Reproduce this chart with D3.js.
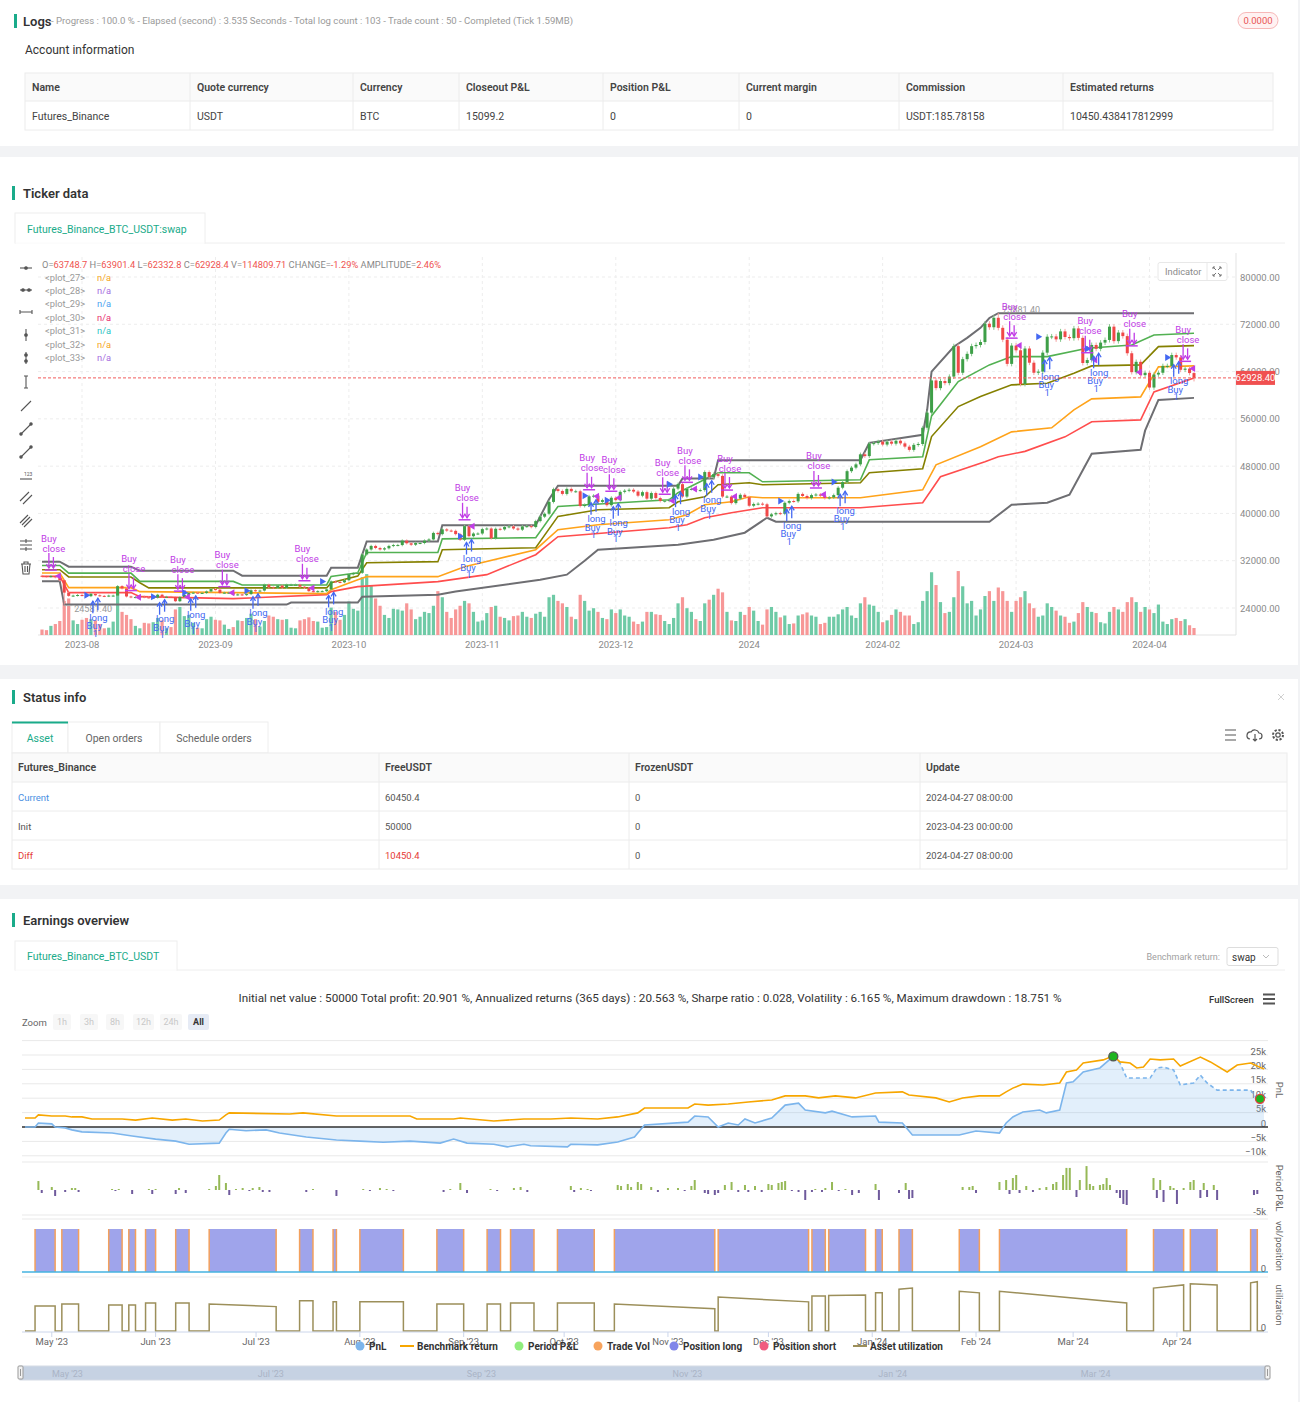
<!DOCTYPE html>
<html>
<head>
<meta charset="utf-8">
<script src="https://cdn.jsdelivr.net/npm/d3@7"></script>
<style>
  body { margin: 0; background: #f2f3f5; }
  svg { display: block; font-family: Roboto, "Helvetica Neue", Arial, sans-serif; }
</style>
</head>
<body>
<svg id="page" width="1300" height="1402"></svg>
<script>
// ---------- data ----------
const logsText = "- Progress : 100.0 % - Elapsed (second) : 3.535  Seconds - Total log count : 103 - Trade count : 50 - Completed (Tick 1.59MB)";
const badgeValue = "0.0000";

const accountHeaders = ["Name", "Quote currency", "Currency", "Closeout P&L", "Position P&L", "Current margin", "Commission", "Estimated returns"];
const accountValues = ["Futures_Binance", "USDT", "BTC", "15099.2", "0", "0", "USDT:185.78158", "10450.438417812999"];

const statusTabs = ["Asset", "Open orders", "Schedule orders"];
const statusHeaders = ["Futures_Binance", "FreeUSDT", "FrozenUSDT", "Update"];
const statusRows = [
  ["Current", "60450.4", "0", "2024-04-27 08:00:00"],
  ["Init", "50000", "0", "2023-04-23 00:00:00"],
  ["Diff", "10450.4", "0", "2024-04-27 08:00:00"]
];

const ohlcLegend = [["O=", "63748.7"], ["H=", "63901.4"], ["L=", "62332.8"], ["C=", "62928.4"], ["V=", "114809.71"], [" CHANGE=", "-1.29%"], ["AMPLITUDE=", "2.46%"]];
const plotNames = ["<plot_27>", "<plot_28>", "<plot_29>", "<plot_30>", "<plot_31>", "<plot_32>", "<plot_33>"];

// daily candles, first bar 2023-08-12, last 2024-04-27
const candleStart = "2023-08-12";
const firstOpen = 29450;
const closes = [
  29400, 29300, 29400, 29200, 28700, 26600, 26050, 26100, 26200, 26100, 26000, 26400, 26150, 26050, 26000, 26100, 26100, 27700, 27300, 25950,
  25800, 25850, 25950, 25800, 25750, 25750, 26250, 25900, 25900, 25850, 25150, 25850, 26200, 26550, 26600, 26550, 26550, 26800, 27200, 27100,
  26550, 26600, 26600, 26250, 26300, 26200, 26350, 27000, 26900, 26950,
  27950, 27500, 27400, 27800, 27400, 27950, 27950, 27950, 27600, 27400, 26850, 26750, 26850, 26850, 27150, 28500, 28400, 28350, 28700, 29700,
  29900, 29950, 33050, 33900, 34500, 34150, 33900, 34100, 34500, 34650, 34650,
  35400, 34950, 34700, 35000, 35000, 35400, 35600, 36700, 36500, 37300, 37100, 37050, 36500, 35550, 37850, 36150, 36600, 36600, 37350, 37450,
  35800, 37400, 37300, 37700, 37800, 37450, 37250, 37800, 37850, 37700,
  38700, 39450, 39950, 41950, 44100, 43800, 43300, 44150, 43750, 43750, 41250, 41450, 42900, 43000, 41950, 42250, 41400, 42650, 42250, 43650,
  43850, 44000, 43700, 43000, 43600, 42500, 43450, 42600, 42100, 42150, 42300,
  44200, 44950, 42850, 44150, 44150, 43950, 43950, 47000, 46150, 46650, 46350, 42850, 42850, 41750, 42500, 43150, 42750, 41300, 41600, 41650,
  41550, 39500, 39850, 40050, 39950, 41800, 42100, 42050, 43300, 42950, 42600,
  43100, 43200, 43000, 42600, 42700, 43100, 44350, 45300, 47150, 47750, 48300, 50000, 49700, 51800, 51900, 52150, 51650, 52150, 51800, 52300,
  51850, 51300, 50750, 51600, 51750, 54500, 57050, 62500, 61200,
  62400, 62050, 63150, 68300, 63800, 66100, 67000, 68300, 68500, 69000, 72100, 71500, 73100, 71400, 69400, 65300, 68400, 67600, 61900, 67900,
  65500, 63800, 64000, 67200, 69900, 69950, 69450, 70800, 69850, 69650, 71300,
  69700, 65450, 65950, 68500, 67850, 68900, 69350, 71600, 69150, 70600, 70000, 67100, 63900, 65650, 63400, 63800, 61300, 63500, 63800, 64950,
  64950, 66800, 66400, 64300, 64500, 63750, 62928.4
];
// volume, thousands
const volumes = [
  90, 80, 150, 180, 230, 560, 600, 240, 180, 250, 280, 260, 240, 180, 110, 120, 220, 700, 380, 330,
  260, 150, 110, 200, 190, 210, 280, 240, 110, 130, 420, 460, 310, 330, 200, 120, 110, 260, 300, 250, 240, 170, 100, 130, 240, 230, 280, 350, 260, 140,
  230, 320, 300, 260, 250, 260, 120, 110, 240, 260, 290, 230, 220, 120, 130, 450, 380, 250, 330, 550, 430, 400, 950, 1000, 820, 600, 480, 330, 280, 430, 420,
  400, 520, 420, 260, 300, 380, 360, 480, 720, 620, 380, 280, 420, 480, 560, 520, 380, 220, 240, 360, 460, 480, 300, 280, 240, 310, 320, 380, 300, 280,
  350, 380, 300, 620, 660, 560, 520, 460, 300, 260, 660, 560, 400, 440, 380, 280, 260, 420, 360, 420, 320, 300, 220, 180, 220, 380, 380, 340, 330, 230, 180,
  280, 520, 620, 440, 380, 260, 230, 520, 580, 660, 760, 700, 380, 240, 230, 380, 330, 460, 400, 230, 170, 420, 460, 380, 290, 320, 180, 190, 320, 340, 370,
  320, 300, 180, 200, 300, 300, 340, 420, 460, 320, 280, 520, 620, 500, 480, 380, 210, 240, 330, 420, 380, 320, 320, 180, 210, 560, 720, 1030, 820,
  540, 360, 380, 620, 1050, 800, 520, 560, 320, 420, 640, 720, 560, 780, 720, 560, 380, 560, 620, 720, 520, 440, 300, 320, 520, 460, 400, 320, 300, 200, 220,
  360, 540, 460, 380, 360, 210, 190, 380, 460, 420, 380, 540, 620, 540, 380, 460, 420, 360, 500, 220, 180, 260, 280, 230, 260, 160, 114.8
];
const lastBar = { date: "2024-04-27", o: 63748.7, h: 63901.4, l: 62332.8 };
const extremeLow = ["2023-08-17", 24581.4];
const extremeHigh = ["2024-03-14", 73881.4];

// channel lines, vertices [date, price]
const bandTop = [["2023-08-12",31840],["2023-08-16",31840],["2023-08-18",30990],["2023-09-01",30990],["2023-09-03",30310],["2023-09-24",30310],["2023-09-26",29470],["2023-10-15",29470],["2023-10-16",30820],["2023-10-22",30820],["2023-10-24",35250],["2023-11-09",35250],["2023-11-10",38000],["2023-12-01",38000],["2023-12-04",42400],["2023-12-06",44700],["2024-01-02",44700],["2024-01-03",45900],["2024-01-10",45900],["2024-01-11",49000],["2024-02-12",49000],["2024-02-14",51950],["2024-02-26",53300],["2024-02-27",57500],["2024-02-28",64000],["2024-03-04",68200],["2024-03-07",69700],["2024-03-10",71400],["2024-03-12",73070],["2024-03-14",73880],["2024-04-27",73880]];
const bandGreen = [["2023-08-12",31200],["2023-08-16",31200],["2023-08-18",29900],["2023-09-01",29900],["2023-09-03",28500],["2023-09-24",28500],["2023-09-26",27900],["2023-10-15",27900],["2023-10-16",29350],["2023-10-22",29970],["2023-10-24",33400],["2023-11-09",33400],["2023-11-10",35700],["2023-12-01",35900],["2023-12-06",41180],["2023-12-31",42300],["2024-01-02",43500],["2024-01-11",46880],["2024-01-18",46880],["2024-01-21",45350],["2024-02-12",45690],["2024-02-14",49070],["2024-02-26",49580],["2024-02-28",56500],["2024-03-05",62300],["2024-03-12",65130],["2024-03-17",66530],["2024-03-25",66530],["2024-04-03",67950],["2024-04-13",68500],["2024-04-18",70200],["2024-04-27",70480]];
const bandOlive = [["2023-08-12",30480],["2023-08-16",30480],["2023-08-18",29250],["2023-09-01",29250],["2023-09-03",28280],["2023-09-05",27400],["2023-10-15",27400],["2023-10-16",28280],["2023-10-22",29400],["2023-10-24",31660],["2023-11-09",31840],["2023-11-10",33860],["2023-12-01",34200],["2023-12-06",39500],["2023-12-15",40620],["2023-12-31",40960],["2024-01-02",41980],["2024-01-08",42820],["2024-01-11",44850],["2024-01-18",45190],["2024-01-21",44850],["2024-02-12",45190],["2024-02-14",46880],["2024-02-26",47550],["2024-02-28",53000],["2024-03-05",58080],["2024-03-10",59770],["2024-03-17",61750],["2024-03-25",62030],["2024-03-31",63720],["2024-04-04",64960],["2024-04-15",65130],["2024-04-19",68220],["2024-04-27",68390]];
const bandOrange = [["2023-08-12",29920],["2023-08-16",29920],["2023-08-18",27440],["2023-09-01",27440],["2023-09-03",26770],["2023-09-24",26600],["2023-10-15",26430],["2023-10-16",27100],["2023-10-22",28790],["2023-10-24",29300],["2023-11-09",29300],["2023-11-15",30990],["2023-12-01",33860],["2023-12-06",37240],["2023-12-15",38090],["2023-12-31",38930],["2024-01-04",39780],["2024-01-08",41470],["2024-01-14",41980],["2024-01-18",42820],["2024-01-21",42650],["2024-02-12",42650],["2024-02-26",44000],["2024-02-29",48230],["2024-03-10",51270],["2024-03-17",53800],["2024-03-26",54480],["2024-03-31",57520],["2024-04-04",59380],["2024-04-15",59720],["2024-04-19",64790],["2024-04-27",64960]];
const bandRed = [["2023-08-12",29350],["2023-08-16",29350],["2023-08-18",26600],["2023-09-01",26600],["2023-09-03",25920],["2023-09-24",25580],["2023-10-15",26260],["2023-10-16",26770],["2023-10-22",27610],["2023-11-09",28460],["2023-11-20",29640],["2023-12-01",33020],["2023-12-06",36060],["2023-12-31",37580],["2024-01-04",38090],["2024-01-08",39270],["2024-01-14",40120],["2024-01-21",40960],["2024-02-12",40960],["2024-02-26",41800],["2024-03-01",46200],["2024-03-11",48740],["2024-03-14",49580],["2024-03-20",50500],["2024-03-29",52960],["2024-04-04",55500],["2024-04-15",55830],["2024-04-18",60560],["2024-04-27",62930]];
const bandBottom = [["2023-08-12",28510],["2023-08-16",28510],["2023-08-17",24580],["2023-10-06",24580],["2023-10-07",24910],["2023-10-22",24910],["2023-10-23",25920],["2023-11-09",26260],["2023-11-13",26800],["2023-12-02",28790],["2023-12-08",29640],["2023-12-12",32000],["2023-12-15",33860],["2024-01-02",34710],["2024-01-10",35550],["2024-01-17",36740],["2024-01-22",39270],["2024-01-24",38600],["2024-03-12",38600],["2024-03-17",41470],["2024-03-25",41800],["2024-03-30",43160],["2024-04-04",50100],["2024-04-15",50760],["2024-04-16",54000],["2024-04-19",59210],["2024-04-27",59550]];

const priceTicks = [24000, 32000, 40000, 48000, 56000, 64000, 72000, 80000];
const tickerTicks = [["2023-08","2023-08-21"],["2023-09","2023-09-20"],["2023-10","2023-10-20"],["2023-11","2023-11-19"],["2023-12","2023-12-19"],["2024","2024-01-18"],["2024-02","2024-02-17"],["2024-03","2024-03-18"],["2024-04","2024-04-17"]];

// trades: [entry, exit]
const positions = [["2023-04-26","2023-05-02"],["2023-05-04","2023-05-09"],["2023-05-18","2023-05-22"],["2023-05-24","2023-05-26"],["2023-05-29","2023-06-01"],["2023-06-07","2023-06-11"],["2023-06-17","2023-07-07"],["2023-07-14","2023-07-18"],["2023-07-24","2023-07-25"],["2023-08-01","2023-08-14"],["2023-08-24","2023-09-01"],["2023-09-08","2023-09-12"],["2023-09-15","2023-09-22"],["2023-09-29","2023-10-10"],["2023-10-16","2023-11-15"],["2023-11-16","2023-12-13"],["2023-12-14","2023-12-18"],["2023-12-19","2023-12-30"],["2024-01-02","2024-01-04"],["2024-01-09","2024-01-13"],["2024-01-27","2024-02-02"],["2024-02-08","2024-03-17"],["2024-03-25","2024-04-03"],["2024-04-05","2024-04-13"],["2024-04-23","2024-04-25"]];
// asset utilization at start / end of each trade
const utilLevels = [[0.47,0.47],[0.51,0.51],[0.49,0.49],[0.49,0.49],[0.53,0.53],[0.53,0.53],[0.51,0.46],[0.57,0.57],[0.55,0.55],[0.55,0.55],[0.51,0.51],[0.51,0.51],[0.53,0.53],[0.53,0.53],[0.51,0.42],[0.64,0.55],[0.66,0.66],[0.67,0.68],[0.72,0.72],[0.79,0.81],[0.75,0.72],[0.75,0.53],[0.81,0.87],[0.89,0.87],[0.91,0.93]];

const summaryText = "Initial net value : 50000 Total profit: 20.901 %, Annualized returns (365 days) : 20.563 %, Sharpe ratio : 0.028, Volatility : 6.165 %, Maximum drawdown : 18.751 %";
const zoomButtons = ["1h", "3h", "8h", "12h", "24h", "All"];

const pnlSeries = [["2023-04-23",0],["2023-04-26",0],["2023-04-27",1400],["2023-05-01",1100],["2023-05-02",0],["2023-05-05",-300],["2023-05-07",-1000],["2023-05-10",-1700],["2023-05-19",-2100],["2023-05-25",-3100],["2023-06-01",-4200],["2023-06-07",-4900],["2023-06-11",-6000],["2023-06-20",-5600],["2023-06-22",-2100],["2023-06-23",-800],["2023-06-28",-1300],["2023-07-04",-1000],["2023-07-08",-2100],["2023-07-16",-3500],["2023-07-25",-4500],["2023-08-01",-4900],["2023-08-08",-5300],["2023-08-16",-4900],["2023-08-25",-5600],["2023-08-29",-4200],["2023-09-02",-5600],["2023-09-10",-6000],["2023-09-14",-6900],["2023-09-19",-6000],["2023-09-21",-6500],["2023-10-02",-6900],["2023-10-03",-6000],["2023-10-11",-6200],["2023-10-17",-5200],["2023-10-22",-3500],["2023-10-25",700],["2023-11-07",1700],["2023-11-09",3800],["2023-11-13",3500],["2023-11-16",0],["2023-11-19",1400],["2023-11-22",700],["2023-11-24",2800],["2023-11-27",1400],["2023-12-02",3100],["2023-12-06",7600],["2023-12-10",8300],["2023-12-12",5900],["2023-12-18",4900],["2023-12-20",5500],["2023-12-26",3500],["2024-01-02",3800],["2024-01-03",1700],["2024-01-10",1400],["2024-01-11",0],["2024-01-13",-2800],["2024-01-27",-2800],["2024-02-01",-1400],["2024-02-08",-2100],["2024-02-10",1400],["2024-02-12",3500],["2024-02-15",5200],["2024-02-20",5900],["2024-02-22",4900],["2024-02-26",5900],["2024-02-28",15300],["2024-03-01",15700],["2024-03-04",19100],["2024-03-09",20500],["2024-03-13",24500],["2024-03-15",22200],["2024-03-17",17000],["2024-03-24",17000],["2024-03-26",20500],["2024-03-28",20800],["2024-03-31",19800],["2024-04-02",14600],["2024-04-06",15300],["2024-04-08",18000],["2024-04-10",15300],["2024-04-13",12800],["2024-04-23",12800],["2024-04-25",9800],["2024-04-27",9800]];
const pnlPeakDate = "2024-03-13";
const benchSeries = [["2023-04-23",3100],["2023-04-26",3100],["2023-04-27",4200],["2023-05-01",3800],["2023-05-05",3800],["2023-05-07",3500],["2023-05-10",3500],["2023-05-13",2800],["2023-05-22",2800],["2023-05-26",2400],["2023-05-31",3100],["2023-06-06",2400],["2023-06-10",2800],["2023-06-15",2100],["2023-06-20",2400],["2023-06-22",4200],["2023-06-23",4900],["2023-07-11",4500],["2023-07-15",4900],["2023-07-25",3800],["2023-08-04",3800],["2023-08-16",3800],["2023-08-18",2800],["2023-08-29",2800],["2023-08-31",3100],["2023-09-10",2100],["2023-09-19",2800],["2023-09-27",2800],["2023-10-03",3100],["2023-10-11",2800],["2023-10-17",3500],["2023-10-23",4900],["2023-10-25",6600],["2023-11-07",6600],["2023-11-09",8000],["2023-11-13",7600],["2023-11-19",8000],["2023-11-25",8700],["2023-12-02",9400],["2023-12-06",10800],["2023-12-12",10800],["2023-12-16",10100],["2023-12-21",10800],["2023-12-27",10100],["2024-01-02",11800],["2024-01-10",12200],["2024-01-12",11100],["2024-01-20",10100],["2024-01-24",8700],["2024-01-28",10100],["2024-02-02",10800],["2024-02-08",10800],["2024-02-10",12200],["2024-02-12",13500],["2024-02-15",14900],["2024-02-21",14600],["2024-02-26",15300],["2024-02-28",19100],["2024-03-02",19800],["2024-03-04",22200],["2024-03-10",23300],["2024-03-13",24700],["2024-03-15",22600],["2024-03-18",22200],["2024-03-20",20500],["2024-03-22",20800],["2024-03-24",23600],["2024-03-27",23300],["2024-03-31",23600],["2024-04-02",21200],["2024-04-08",24300],["2024-04-11",22600],["2024-04-16",19100],["2024-04-19",21500],["2024-04-23",22200],["2024-04-27",20100]];
const periodPnl = [["2023-04-27",1950],["2023-04-28",-650],["2023-05-01",650],["2023-05-02",-1300],["2023-05-05",-430],["2023-05-07",430],["2023-05-08",430],["2023-05-09",-430],["2023-05-19",220],["2023-05-20",-220],["2023-05-21",220],["2023-05-25",-870],["2023-05-30",220],["2023-05-31",-870],["2023-06-01",220],["2023-06-07",-870],["2023-06-08",430],["2023-06-10",-650],["2023-06-17",220],["2023-06-19",870],["2023-06-20",3260],["2023-06-22",1520],["2023-06-23",-1090],["2023-06-25",220],["2023-06-27",430],["2023-06-29",-220],["2023-06-30",430],["2023-07-02",650],["2023-07-03",-430],["2023-07-05",-430],["2023-07-16",-430],["2023-07-18",220],["2023-07-25",-1300],["2023-08-02",220],["2023-08-04",-220],["2023-08-07",430],["2023-08-09",220],["2023-08-11",-220],["2023-08-26",-430],["2023-08-28",220],["2023-08-31",1520],["2023-09-02",-650],["2023-09-09",220],["2023-09-11",-220],["2023-09-16",430],["2023-09-18",650],["2023-09-20",-430],["2023-10-03",870],["2023-10-04",-430],["2023-10-06",430],["2023-10-08",220],["2023-10-09",-220],["2023-10-17",1090],["2023-10-18",870],["2023-10-20",1300],["2023-10-21",650],["2023-10-23",1740],["2023-10-24",1300],["2023-10-27",650],["2023-10-29",-430],["2023-11-01",430],["2023-11-04",430],["2023-11-06",-220],["2023-11-08",870],["2023-11-09",2170],["2023-11-12",-650],["2023-11-13",-870],["2023-11-15",-1090],["2023-11-16",-650],["2023-11-18",1090],["2023-11-20",1740],["2023-11-22",-430],["2023-11-24",1090],["2023-11-25",-430],["2023-11-27",870],["2023-11-29",-430],["2023-12-01",1300],["2023-12-02",1090],["2023-12-04",1520],["2023-12-05",1740],["2023-12-06",1950],["2023-12-08",-220],["2023-12-10",-430],["2023-12-12",-2170],["2023-12-14",-430],["2023-12-15",220],["2023-12-17",-430],["2023-12-18",430],["2023-12-20",1740],["2023-12-22",-220],["2023-12-24",220],["2023-12-26",-1090],["2023-12-28",-650],["2024-01-02",1300],["2024-01-03",-2170],["2024-01-09",-650],["2024-01-11",1520],["2024-01-12",-1950],["2024-01-13",-1740],["2024-01-28",650],["2024-01-30",650],["2024-01-31",870],["2024-02-01",-650],["2024-02-08",1740],["2024-02-10",2170],["2024-02-11",-870],["2024-02-12",2600],["2024-02-13",3260],["2024-02-14",-650],["2024-02-16",870],["2024-02-18",-430],["2024-02-20",430],["2024-02-22",650],["2024-02-24",1300],["2024-02-25",1740],["2024-02-27",3260],["2024-02-28",4800],["2024-02-29",4800],["2024-03-02",-1520],["2024-03-03",2170],["2024-03-05",5200],["2024-03-06",1300],["2024-03-07",870],["2024-03-09",1090],["2024-03-10",1300],["2024-03-11",2600],["2024-03-12",1090],["2024-03-14",-650],["2024-03-15",-1740],["2024-03-16",-3040],["2024-03-17",-3260],["2024-03-25",2600],["2024-03-26",-1740],["2024-03-27",2170],["2024-03-28",-2600],["2024-03-30",870],["2024-03-31",430],["2024-04-01",-3040],["2024-04-03",430],["2024-04-05",1740],["2024-04-06",2170],["2024-04-08",-1740],["2024-04-09",1520],["2024-04-10",-1520],["2024-04-12",1090],["2024-04-13",-2170],["2024-04-24",-1090],["2024-04-25",-870]];
const pnlTicks = [-10000, -5000, 0, 5000, 10000, 15000, 20000, 25000];
const monthTicks = ["2023-05-01","2023-06-01","2023-07-01","2023-08-01","2023-09-01","2023-10-01","2023-11-01","2023-12-01","2024-01-01","2024-02-01","2024-03-01","2024-04-01"];
const navTicks = ["2023-05-01","2023-07-01","2023-09-01","2023-11-01","2024-01-01","2024-03-01"];
const legendNames = ["PnL", "Benchmark return", "Period P&L", "Trade Vol", "Position long", "Position short", "Asset utilization"];

// ---------- styles / layout ----------
const GREEN = "#1aab8a";
const plotColors = ["#f5a623", "#a66ee0", "#4aa3f0", "#e8306e", "#2ec4c4", "#f5a623", "#a66ee0"];
const bandStyles = [
  [bandBottom, "#6e6e72", 2], [bandRed, "#ff4d4d", 1.6], [bandOrange, "#ffa31a", 1.6],
  [bandOlive, "#858000", 1.6], [bandGreen, "#52b152", 1.6], [bandTop, "#6e6e72", 2]
];
const legendStyle = [["#7cb5ec", "dot", 360], ["#f7a600", "line", 404], ["#90ed7d", "dot", 519], ["#f7a35c", "dot", 598], ["#8085e9", "dot", 674], ["#f15c80", "dot", 764], ["#9c8f5a", "line", 857]];

const P = d3.utcParse("%Y-%m-%d");
const svg = d3.select("#page");

function txt(g, x, y, s, o = {}) {
  return g.append("text")
    .attr("x", x).attr("y", y)
    .attr("font-size", o.size || 11)
    .attr("fill", o.color || "#333")
    .attr("font-weight", o.weight || 400)
    .attr("text-anchor", o.anchor || "start")
    .attr("dominant-baseline", "central")
    .text(s);
}
function hline(g, x1, x2, y, color, w = 1, dash = null) {
  return g.append("line").attr("x1", x1).attr("x2", x2).attr("y1", y).attr("y2", y)
    .attr("stroke", color).attr("stroke-width", w).attr("stroke-dasharray", dash);
}
function vline(g, x, y1, y2, color, w = 1, dash = null) {
  return g.append("line").attr("x1", x).attr("x2", x).attr("y1", y1).attr("y2", y2)
    .attr("stroke", color).attr("stroke-width", w).attr("stroke-dasharray", dash);
}
function sectionTitle(y, s) {
  svg.append("rect").attr("x", 12).attr("y", y - 7).attr("width", 3).attr("height", 14).attr("fill", GREEN);
  txt(svg, 23, y, s, { size: 13, weight: 600, color: "#333" });
}

// panels
[[0, 0, 146], [0, 157, 508], [0, 679, 206], [0, 899, 503]].forEach(([x, y, h]) => {
  svg.append("rect").attr("x", x).attr("y", y).attr("width", 1298).attr("height", h).attr("fill", "#fff");
});

// ---------- Logs / account ----------
svg.append("rect").attr("x", 14).attr("y", 14).attr("width", 3).attr("height", 14).attr("fill", GREEN);
txt(svg, 23, 21, "Logs", { size: 13, weight: 600 });
txt(svg, 51, 21, logsText, { size: 9, color: "#9a9a9a" }).attr("textLength", 522).attr("lengthAdjust", "spacingAndGlyphs");
svg.append("rect").attr("x", 1238).attr("y", 12.5).attr("width", 40).attr("height", 16).attr("rx", 8)
  .attr("fill", "#fff2f2").attr("stroke", "#f7b8b8");
txt(svg, 1258, 20.5, badgeValue, { size: 9.5, color: "#e85555", anchor: "middle" });
txt(svg, 25, 50, "Account information", { size: 12, color: "#333" });

const accCols = [25, 190, 353, 459, 603, 739, 899, 1063, 1273];
svg.append("rect").attr("x", 25).attr("y", 73).attr("width", 1248).attr("height", 28).attr("fill", "#fafafa");
svg.append("rect").attr("x", 25).attr("y", 73).attr("width", 1248).attr("height", 57).attr("fill", "none").attr("stroke", "#ececec");
hline(svg, 25, 1273, 101, "#ececec");
accCols.slice(1, -1).forEach(x => vline(svg, x, 73, 130, "#ececec"));
accountHeaders.forEach((h, i) => txt(svg, accCols[i] + 7, 87, h, { size: 10.5, weight: 600, color: "#444" }));
accountValues.forEach((v, i) => txt(svg, accCols[i] + 7, 116, v, { size: 10.5, color: "#444" }));

// ---------- Ticker data ----------
sectionTitle(193, "Ticker data");
hline(svg, 15, 1285, 243, "#eeeeee");
svg.append("rect").attr("x", 15).attr("y", 213).attr("width", 190).attr("height", 30).attr("fill", "#fff").attr("stroke", "#eeeeee");
hline(svg, 15.5, 204.5, 243, "#fff", 1.5);
txt(svg, 27, 229, "Futures_Binance_BTC_USDT:swap", { size: 10.5, color: GREEN });

const gT = svg.append("g");
const xT = d3.scaleUtc().domain([P(candleStart), P(lastBar.date)]).range([42, 1194]);
const yT = d3.scaleLinear().domain([24000, 80000]).range([608, 277]);
const yV = d3.scaleLinear().domain([0, 1100]).range([635, 568]);
const plotL = 38, plotR = 1236, plotT = 257, plotB = 635;

const candles = closes.map((c, i) => {
  const date = d3.utcDay.offset(P(candleStart), i);
  const o = i === 0 ? firstOpen : closes[i - 1];
  const pad = Math.max(o, c) * 0.006;
  return { date, o, c, h: Math.max(o, c) + pad, l: Math.min(o, c) - pad, v: volumes[i] };
});
const byDate = new Map(candles.map(d => [+d.date, d]));
const lb = byDate.get(+P(lastBar.date));
Object.assign(lb, { o: lastBar.o, h: lastBar.h, l: lastBar.l });
byDate.get(+P(extremeLow[0])).l = extremeLow[1];
byDate.get(+P(extremeHigh[0])).h = extremeHigh[1];

// grid
priceTicks.forEach(p => hline(gT, plotL, plotR, yT(p), "#ededed", 1, "3,3"));
tickerTicks.forEach(([, d]) => vline(gT, xT(P(d)), plotT, plotB, "#ededed", 1, "3,3"));
vline(gT, plotR, plotT - 4, plotB, "#e3e3e3");
hline(gT, plotL, plotR, plotB, "#e3e3e3");
priceTicks.forEach(p => txt(gT, 1240, yT(p), d3.format(".2f")(p), { size: 9.5, color: "#8a8a8a" }));
tickerTicks.forEach(([s, d]) => txt(gT, xT(P(d)), 644, s, { size: 9.5, color: "#8a8a8a", anchor: "middle" }));

// volume
gT.append("g").selectAll("rect").data(candles).join("rect")
  .attr("x", d => xT(d.date) - 1.6).attr("width", 3.2)
  .attr("y", d => yV(d.v)).attr("height", d => yV(0) - yV(d.v))
  .attr("fill", d => d.c >= d.o ? "#6fcaa6" : "#f79797");

// channel lines
const bandLine = d3.line().x(d => xT(P(d[0]))).y(d => yT(d[1]));
bandStyles.forEach(([pts, color, w]) => {
  gT.append("path").attr("d", bandLine(pts)).attr("fill", "none").attr("stroke", color).attr("stroke-width", w);
});

// candles
const cg = gT.append("g");
cg.selectAll("line").data(candles).join("line")
  .attr("x1", d => xT(d.date)).attr("x2", d => xT(d.date))
  .attr("y1", d => yT(d.h)).attr("y2", d => yT(d.l))
  .attr("stroke", d => d.c >= d.o ? "#84c98a" : "#f5a0a0").attr("stroke-width", 1);
cg.selectAll("rect").data(candles).join("rect")
  .attr("x", d => xT(d.date) - 1.5).attr("width", 3)
  .attr("y", d => yT(Math.max(d.o, d.c)))
  .attr("height", d => Math.max(1, Math.abs(yT(d.o) - yT(d.c))))
  .attr("fill", d => d.c >= d.o ? "#3e9f48" : "#f04848");

// extremes
const hiC = byDate.get(+P(extremeHigh[0])), loC = byDate.get(+P(extremeLow[0]));
txt(gT, xT(hiC.date) + 4, yT(hiC.h) - 3, d3.format(".2f")(extremeHigh[1]), { size: 9, color: "#999" });
hline(gT, xT(loC.date), xT(loC.date) + 8, yT(loC.l) + 1, "#aaa");
txt(gT, xT(loC.date) + 10, yT(loC.l) + 4, d3.format(".2f")(extremeLow[1]), { size: 9, color: "#999" });

// trade markers
const BLUE = "#4468f2", PURPLE = "#c13de6";
function drawEntry(c) {
  const x = xT(c.date), yb = yT(c.l), yc = yT(c.c);
  gT.append("path").attr("d", `M${x - 11},${yc - 3.5}L${x - 5},${yc}L${x - 11},${yc + 3.5}Z`).attr("fill", BLUE);
  [[-2.5, 5], [2.5, 2]].forEach(([dx, top]) => {
    const ax = x + dx, y0 = yb + top;
    gT.append("line").attr("x1", ax).attr("x2", ax).attr("y1", y0).attr("y2", y0 + 12).attr("stroke", BLUE).attr("stroke-width", 1.3);
    gT.append("path").attr("d", `M${ax - 2.5},${y0 + 4}L${ax},${y0}L${ax + 2.5},${y0 + 4}`).attr("fill", "none").attr("stroke", BLUE).attr("stroke-width", 1.3);
  });
  txt(gT, x + 3, yb + 21, "long", { size: 9.5, color: BLUE, anchor: "middle" });
  txt(gT, x - 1, yb + 29.5, "Buy", { size: 9.5, color: BLUE, anchor: "middle" });
  txt(gT, x, yb + 37, "1", { size: 9.5, color: BLUE, anchor: "middle" });
}
function drawExit(c) {
  const x = xT(c.date), yt = yT(c.h), yc = yT(c.c);
  gT.append("path").attr("d", `M${x + 10},${yc - 3.5}L${x + 4},${yc}L${x + 10},${yc + 3.5}Z`).attr("fill", PURPLE);
  [[-2, 22], [2.5, 18]].forEach(([dx, top]) => {
    const ax = x + dx, y1 = yt - 7;
    gT.append("line").attr("x1", ax).attr("x2", ax).attr("y1", yt - top).attr("y2", y1).attr("stroke", PURPLE).attr("stroke-width", 1.3);
    gT.append("path").attr("d", `M${ax - 2.5},${y1 - 4}L${ax},${y1}L${ax + 2.5},${y1 - 4}`).attr("fill", "none").attr("stroke", PURPLE).attr("stroke-width", 1.3);
  });
  hline(gT, x - 6, x + 6, yt - 5, PURPLE, 1.5);
  txt(gT, x + 3, yt - 27, "close", { size: 9.5, color: PURPLE, anchor: "middle" });
  txt(gT, x - 2, yt - 37, "Buy", { size: 9.5, color: PURPLE, anchor: "middle" });
}
positions.forEach(([s, e]) => {
  const cs = byDate.get(+P(s)), ce = byDate.get(+P(e));
  if (cs) drawEntry(cs);
  if (ce) drawExit(ce);
});

// last price
const yLast = yT(closes[closes.length - 1]);
hline(gT, plotL, plotR, yLast, "#f25b5b", 1, "3,2");
gT.append("rect").attr("x", 1236).attr("y", yLast - 7).attr("width", 39).attr("height", 14).attr("fill", "#f05050");
txt(gT, 1255.5, yLast, d3.format(".2f")(closes[closes.length - 1]), { size: 9.5, color: "#fff", anchor: "middle" });

// legend
const leg = gT.append("text").attr("x", 42).attr("y", 264).attr("font-size", 9.3).attr("dominant-baseline", "central");
ohlcLegend.forEach(([k, v], i) => {
  leg.append("tspan").attr("fill", "#888").text((i ? " " : "") + k);
  leg.append("tspan").attr("fill", "#ef5350").text(v);
});
plotNames.forEach((n, i) => {
  const y = 277 + i * 13.4;
  txt(gT, 45, y, n, { size: 9.3, color: "#999" });
  txt(gT, 97, y, "n/a", { size: 9.3, color: plotColors[i] });
});

// Indicator button
gT.append("rect").attr("x", 1158).attr("y", 262.5).attr("width", 69).attr("height", 18).attr("rx", 2).attr("fill", "#fff").attr("stroke", "#e8e8e8");
txt(gT, 1165, 271.5, "Indicator", { size: 9.3, color: "#8a8a8a" });
vline(gT, 1207, 262.5, 280.5, "#e8e8e8");
[[1213, 267, 1, 1], [1221, 267, -1, 1], [1213, 276, 1, -1], [1221, 276, -1, -1]].forEach(([x, y, sx, sy]) => {
  gT.append("path").attr("d", `M${x},${y}l${3 * sx},${3 * sy}M${x},${y}l${2 * sx},0M${x},${y}l0,${2 * sy}`).attr("stroke", "#777").attr("fill", "none");
});

// drawing toolbar
const tb = svg.append("g").attr("stroke", "#555").attr("fill", "none").attr("stroke-width", 1.1);
const toolY = [268, 290, 312, 335, 358, 382, 406, 429, 452, 476, 498, 521, 545, 568];
toolY.forEach((y, i) => {
  const x = 26;
  if (i === 0) { tb.append("path").attr("d", `M${x - 6},${y}H${x + 6}`); tb.append("circle").attr("cx", x).attr("cy", y).attr("r", 1.3).attr("fill", "#555"); }
  if (i === 1) { tb.append("path").attr("d", `M${x - 6},${y}H${x + 6}`); [x - 3, x + 3].forEach(cx => tb.append("circle").attr("cx", cx).attr("cy", y).attr("r", 1.3).attr("fill", "#555")); }
  if (i === 2) tb.append("path").attr("d", `M${x - 6},${y}H${x + 6}M${x - 6},${y - 2}V${y + 2}M${x + 6},${y - 2}V${y + 2}`);
  if (i === 3) { tb.append("path").attr("d", `M${x},${y - 6}V${y + 6}`); tb.append("circle").attr("cx", x).attr("cy", y).attr("r", 1.3).attr("fill", "#555"); }
  if (i === 4) { tb.append("path").attr("d", `M${x},${y - 6}V${y + 6}`); [y - 3, y + 3].forEach(cy => tb.append("circle").attr("cx", x).attr("cy", cy).attr("r", 1.3).attr("fill", "#555")); }
  if (i === 5) tb.append("path").attr("d", `M${x},${y - 6}V${y + 6}M${x - 2},${y - 6}H${x + 2}M${x - 2},${y + 6}H${x + 2}`);
  if (i >= 6 && i <= 8) {
    tb.append("path").attr("d", `M${x - 5},${y + 5}L${x + 5},${y - 5}`);
    if (i > 6) [[x - 5, y + 5], [x + 5, y - 5]].forEach(([cx, cy]) => tb.append("circle").attr("cx", cx).attr("cy", cy).attr("r", 1.2).attr("fill", "#555"));
  }
  if (i === 9) { tb.append("path").attr("d", `M${x - 6},${y + 3}H${x + 6}`); svg.append("text").attr("x", x - 2).attr("y", y).attr("font-size", 5).attr("fill", "#555").text("123"); }
  if (i === 10) tb.append("path").attr("d", `M${x - 6},${y + 3}L${x + 3},${y - 6}M${x - 3},${y + 6}L${x + 6},${y - 3}`);
  if (i === 11) tb.append("path").attr("d", `M${x - 6},${y + 2}L${x + 2},${y - 6}M${x - 4},${y + 4}L${x + 4},${y - 4}M${x - 2},${y + 6}L${x + 6},${y - 2}`);
  if (i === 12) tb.append("path").attr("d", `M${x - 6},${y - 4}H${x + 6}M${x - 6},${y}H${x + 6}M${x - 6},${y + 4}H${x + 6}M${x},${y - 6}V${y - 2}M${x},${y + 2}V${y + 6}`);
  if (i === 13) tb.append("path").attr("d", `M${x - 5},${y - 4}H${x + 5}M${x - 2},${y - 4}V${y - 6}H${x + 2}V${y - 4}M${x - 4},${y - 4}L${x - 3},${y + 6}H${x + 3}L${x + 4},${y - 4}M${x - 1},${y - 2}V${y + 4}M${x + 1.5},${y - 2}V${y + 4}`);
});

// ---------- Status info ----------
sectionTitle(697, "Status info");
svg.append("path").attr("d", "M1278,694l6,6M1284,694l-6,6").attr("stroke", "#d0d0d0").attr("fill", "none");
const tabX = [12, 68, 160, 268];
statusTabs.forEach((t, i) => {
  svg.append("rect").attr("x", tabX[i]).attr("y", 722).attr("width", tabX[i + 1] - tabX[i]).attr("height", 31).attr("fill", "#fff").attr("stroke", "#eeeeee");
  txt(svg, (tabX[i] + tabX[i + 1]) / 2, 738, t, { size: 10.5, color: i === 0 ? GREEN : "#666", anchor: "middle" });
});
hline(svg, 12, 68, 722.5, GREEN, 2);
// toolbar icons
const ic = svg.append("g").attr("stroke", "#555").attr("fill", "none").attr("stroke-width", 1.2);
ic.append("path").attr("d", "M1225,730H1236M1225,735H1236M1225,740H1236");
ic.append("path").attr("d", "M1250,739a3.5,3.5 0 0 1 1,-7a4.5,4.5 0 0 1 8,1a3,3 0 0 1 0,6M1255,734V741M1253,739l2,2l2,-2");
ic.append("circle").attr("cx", 1278).attr("cy", 735).attr("r", 2.2);
ic.append("circle").attr("cx", 1278).attr("cy", 735).attr("r", 5).attr("stroke-dasharray", "2.2,1.7").attr("stroke-width", 2);

const stCols = [12, 379, 629, 920, 1287];
svg.append("rect").attr("x", 12).attr("y", 753).attr("width", 1275).attr("height", 29).attr("fill", "#fafafa");
svg.append("rect").attr("x", 12).attr("y", 753).attr("width", 1275).attr("height", 116).attr("fill", "none").attr("stroke", "#ececec");
[782, 811, 840].forEach(y => hline(svg, 12, 1287, y, "#ececec"));
stCols.slice(1, -1).forEach(x => vline(svg, x, 753, 869, "#ececec"));
statusHeaders.forEach((h, i) => txt(svg, stCols[i] + 6, 767.5, h, { size: 10.5, weight: 600, color: "#444" }));
statusRows.forEach((r, ri) => {
  r.forEach((v, ci) => {
    let color = "#555";
    if (ri === 0 && ci === 0) color = "#4a90e2";
    if (ri === 2 && ci < 2) color = "#e53935";
    txt(svg, stCols[ci] + 6, 797 + ri * 29, v, { size: 9.5, color });
  });
});

// ---------- Earnings overview ----------
sectionTitle(920, "Earnings overview");
hline(svg, 15, 1285, 970, "#eeeeee");
svg.append("rect").attr("x", 15).attr("y", 941).attr("width", 162).attr("height", 29).attr("fill", "#fff").attr("stroke", "#eeeeee");
hline(svg, 15.5, 176.5, 970, "#fff", 1.5);
txt(svg, 27, 956, "Futures_Binance_BTC_USDT", { size: 10.5, color: GREEN });
txt(svg, 1220, 957, "Benchmark return:", { size: 9, color: "#a0a0a0", anchor: "end" });
svg.append("rect").attr("x", 1227).attr("y", 947.5).attr("width", 51).attr("height", 18).attr("rx", 2).attr("fill", "#fff").attr("stroke", "#dddddd");
txt(svg, 1232, 957, "swap", { size: 10, color: "#333" });
svg.append("path").attr("d", "M1263,955l3,3l3,-3").attr("stroke", "#bbb").attr("fill", "none");

txt(svg, 650, 998, summaryText, { size: 10.5, color: "#333", anchor: "middle" }).attr("textLength", 823).attr("lengthAdjust", "spacingAndGlyphs");
txt(svg, 1209, 999, "FullScreen", { size: 9.5, color: "#333", weight: 500 });
svg.append("path").attr("d", "M1263,994.5H1275M1263,999H1275M1263,1003.5H1275").attr("stroke", "#555").attr("stroke-width", 1.8);

txt(svg, 22, 1022, "Zoom", { size: 9.5, color: "#666" });
const zbX = [53, 80, 106, 133, 160, 188], zbW = [18, 18, 18, 21, 22, 21];
zoomButtons.forEach((b, i) => {
  const last = i === zoomButtons.length - 1;
  svg.append("rect").attr("x", zbX[i]).attr("y", 1014).attr("width", zbW[i]).attr("height", 16).attr("rx", 2).attr("fill", last ? "#e6ebf5" : "#f7f7f7");
  txt(svg, zbX[i] + zbW[i] / 2, 1022, b, { size: 9, color: last ? "#333" : "#c8c8c8", anchor: "middle", weight: last ? 700 : 400 });
});

const gE = svg.append("g");
const xE = d3.scaleUtc().domain([P("2023-04-23"), P("2024-04-27")]).range([25, 1264]);
const eL = 22, eR = 1268;
const yP = d3.scaleLinear().domain([-10000, 30000]).range([1155.8, 1040.6]);
const yPer = d3.scaleLinear().domain([-5000, 0]).range([1213, 1190]);
const yU = d3.scaleLinear().domain([0, 1]).range([1331, 1278]);

// PnL pane
d3.range(-10000, 30001, 5000).forEach(v => hline(gE, eL, eR, yP(v), "#e9e9e9"));
pnlTicks.forEach(v => txt(gE, 1266, yP(v) - 4, v === 0 ? "0" : d3.format("~s")(v), { size: 9.5, color: "#666", anchor: "end" }));
const pnlPts = pnlSeries.map(d => ({ date: P(d[0]), v: d[1] }));
gE.append("path").datum(pnlPts)
  .attr("d", d3.area().x(d => xE(d.date)).y0(yP(0)).y1(d => yP(d.v)))
  .attr("fill", "rgba(124,181,236,0.22)");
hline(gE, eL, eR, yP(0), "#333", 1.5);
const peakIdx = pnlSeries.findIndex(d => d[0] === pnlPeakDate);
const pLine = d3.line().x(d => xE(d.date)).y(d => yP(d.v));
gE.append("path").attr("d", pLine(pnlPts.slice(0, peakIdx + 1))).attr("fill", "none").attr("stroke", "#7cb5ec").attr("stroke-width", 1.6);
gE.append("path").attr("d", pLine(pnlPts.slice(peakIdx))).attr("fill", "none").attr("stroke", "#7cb5ec").attr("stroke-width", 1.6).attr("stroke-dasharray", "4,3");
const benchPts = benchSeries.map(d => ({ date: P(d[0]), v: d[1] }));
gE.append("path").attr("d", pLine(benchPts)).attr("fill", "none").attr("stroke", "#f7a600").attr("stroke-width", 1.6);
[pnlPts[peakIdx], pnlPts[pnlPts.length - 1]].forEach((d, i) => {
  gE.append("circle").attr("cx", xE(d.date) - (i ? 4 : 0)).attr("cy", yP(d.v)).attr("r", 4.5)
    .attr("fill", "#1fb51f").attr("stroke", i ? "#e04040" : "#555").attr("stroke-width", 1.3);
});

// Period P&L pane
hline(gE, eL, eR, 1162, "#e9e9e9");
hline(gE, eL, eR, 1215, "#e9e9e9");
gE.append("g").selectAll("rect").data(periodPnl).join("rect")
  .attr("x", d => xE(P(d[0])) - 1).attr("width", 2)
  .attr("y", d => Math.min(yPer(0), yPer(d[1])))
  .attr("height", d => Math.abs(yPer(d[1]) - yPer(0)))
  .attr("fill", d => d[1] >= 0 ? "#96b957" : "#6f5a9c");
txt(gE, 1266, 1211, "-5k", { size: 9.5, color: "#666", anchor: "end" });

// vol/position pane
hline(gE, eL, eR, 1219, "#e9e9e9");
positions.forEach(([s, e]) => {
  const x0 = xE(P(s)), x1 = xE(P(e));
  gE.append("rect").attr("x", x0).attr("y", 1229).attr("width", x1 - x0).attr("height", 43).attr("fill", "#9fa4eb");
  vline(gE, x0, 1229, 1272, "#f3a05c", 1.5);
  vline(gE, x1, 1229, 1272, "#f3a05c", 1.5);
});
hline(gE, eL, eR, 1272, "#45b3e0", 1.5);
txt(gE, 1266, 1268, "0", { size: 9.5, color: "#666", anchor: "end" });

// utilization pane
hline(gE, eL, eR, 1277, "#e9e9e9");
const utilPts = [[xE.domain()[0], 0]];
positions.forEach(([s, e], i) => {
  utilPts.push([P(s), 0], [P(s), utilLevels[i][0]], [P(e), utilLevels[i][1]], [P(e), 0]);
});
utilPts.push([xE.domain()[1], 0]);
gE.append("path").attr("d", d3.line().x(d => xE(d[0])).y(d => yU(d[1]))(utilPts))
  .attr("fill", "none").attr("stroke", "#9c8f5a").attr("stroke-width", 1.5);
txt(gE, 1266, 1327, "0", { size: 9.5, color: "#666", anchor: "end" });

// axis titles on the right
[["PnL", 1090], ["Period P&L", 1188], ["vol/position", 1246], ["utilization", 1305]].forEach(([t, y]) => {
  gE.append("text").attr("transform", `translate(1276,${y}) rotate(90)`).attr("text-anchor", "middle")
    .attr("font-size", 9.5).attr("fill", "#666").text(t);
});

// x axis
hline(gE, eL, eR, 1332, "#ccd6eb");
const mFmt = d3.utcFormat("%b '%y");
monthTicks.forEach(d => {
  const x = xE(P(d));
  vline(gE, x, 1332, 1337, "#ccd6eb");
  txt(gE, x, 1341, mFmt(P(d)), { size: 9.5, color: "#666", anchor: "middle" });
});

// legend
legendNames.forEach((n, i) => {
  const [color, kind, x] = legendStyle[i];
  if (kind === "dot") gE.append("circle").attr("cx", x).attr("cy", 1346).attr("r", 4.5).attr("fill", color);
  else hline(gE, x - 4, x + 10, 1346, color, 2);
  txt(gE, x + (kind === "dot" ? 9 : 13), 1346.5, n, { size: 10, color: "#333", weight: 700 });
});

// navigator
const xN = d3.scaleUtc().domain(xE.domain()).range([20, 1268]);
gE.append("rect").attr("x", 20).attr("y", 1366).attr("width", 1248).attr("height", 14).attr("fill", "#c6d2e3").attr("stroke", "#d5dbe5");
navTicks.forEach(d => txt(gE, xN(P(d)) + 5, 1374, mFmt(P(d)), { size: 9, color: "#aab4c6" }));
[18, 1265].forEach(x => {
  gE.append("rect").attr("x", x).attr("y", 1366).attr("width", 5).attr("height", 13).attr("rx", 1).attr("fill", "#f2f2f2").attr("stroke", "#999");
  vline(gE, x + 2.5, 1369, 1376, "#999");
});
</script>
</body>
</html>
